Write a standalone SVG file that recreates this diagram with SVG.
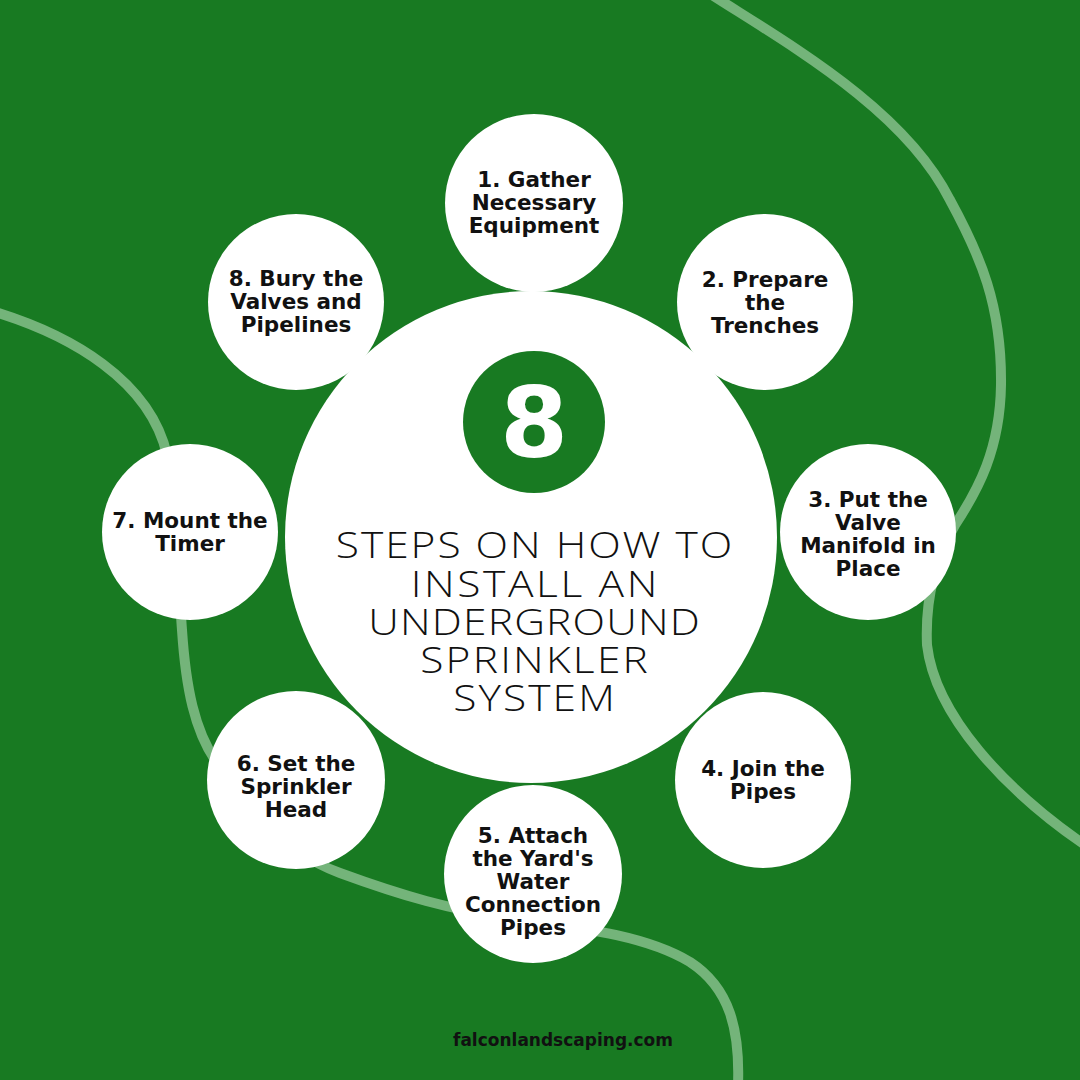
<svg xmlns="http://www.w3.org/2000/svg" width="1080" height="1080" viewBox="0 0 1080 1080">
<style>
.bg{fill:#187a22}
.curve{fill:none;stroke:#74b47a;stroke-width:10;stroke-linecap:butt}
.node{fill:#ffffff}
.lbl{font-family:"DejaVu Sans","Liberation Sans",sans-serif;font-weight:bold;font-size:21.5px;fill:#111111;text-anchor:middle}
.title{font-family:"Open Sans","Liberation Sans",sans-serif;font-weight:300;font-size:36px;fill:#111111;text-anchor:middle}
.big{font-family:"DejaVu Sans","Open Sans",sans-serif;font-weight:bold;font-size:98px;fill:#ffffff;text-anchor:middle}
.foot{font-family:"DejaVu Sans","Liberation Sans",sans-serif;font-weight:bold;font-size:17px;fill:#111111;text-anchor:middle}
</style>
<rect class="bg" x="0" y="0" width="1080" height="1080"/>
<g id="connectors">
<path class="curve" d="M -5 312 C 70 335, 150 380, 167 455 C 180 520, 178 580, 182 630 C 186 690, 195 730, 215 760 C 250 815, 290 855, 340 873 C 400 895, 450 910, 520 920 C 580 928, 645 935, 690 962 C 730 988, 740 1030, 738 1085"/>
<path class="curve" d="M 712 -5 C 790 45, 905 110, 950 200 C 980 255, 1002 305, 1001 385 C 1000 450, 978 490, 955 525 C 935 560, 925 600, 927 645 C 935 715, 1005 790, 1085 845"/>
</g>
<g id="center">
<circle class="node" cx="531" cy="537" r="246"/>
<circle class="bg" cx="534" cy="422" r="71"/>
<text class="big" x="534" y="457">8</text>
<g transform="translate(534 0) scale(1.18 1)">
<text class="title" x="0" y="558" textLength="336" lengthAdjust="spacing">STEPS ON HOW TO</text>
<text class="title" x="0" y="597" textLength="209" lengthAdjust="spacing">INSTALL AN</text>
<text class="title" x="0" y="635" textLength="281" lengthAdjust="spacing">UNDERGROUND</text>
<text class="title" x="0" y="673" textLength="193" lengthAdjust="spacing">SPRINKLER</text>
<text class="title" x="0" y="711" textLength="137" lengthAdjust="spacing">SYSTEM</text>
</g>
</g>
<g id="step1">
<circle class="node" cx="534" cy="203" r="89"/>
<text class="lbl" x="534" y="187">1. Gather</text>
<text class="lbl" x="534" y="210">Necessary</text>
<text class="lbl" x="534" y="233">Equipment</text>
</g>
<g id="step2">
<circle class="node" cx="765" cy="302" r="88"/>
<text class="lbl" x="765" y="287">2. Prepare</text>
<text class="lbl" x="765" y="310">the</text>
<text class="lbl" x="765" y="333">Trenches</text>
</g>
<g id="step3">
<circle class="node" cx="868" cy="532" r="88"/>
<text class="lbl" x="868" y="507">3. Put the</text>
<text class="lbl" x="868" y="530">Valve</text>
<text class="lbl" x="868" y="553">Manifold in</text>
<text class="lbl" x="868" y="576">Place</text>
</g>
<g id="step4">
<circle class="node" cx="763" cy="780" r="88"/>
<text class="lbl" x="763" y="776">4. Join the</text>
<text class="lbl" x="763" y="799">Pipes</text>
</g>
<g id="step5">
<circle class="node" cx="533" cy="874" r="89"/>
<text class="lbl" x="533" y="843">5. Attach</text>
<text class="lbl" x="533" y="866">the Yard's</text>
<text class="lbl" x="533" y="889">Water</text>
<text class="lbl" x="533" y="912">Connection</text>
<text class="lbl" x="533" y="935">Pipes</text>
</g>
<g id="step6">
<circle class="node" cx="296" cy="780" r="89"/>
<text class="lbl" x="296" y="771">6. Set the</text>
<text class="lbl" x="296" y="794">Sprinkler</text>
<text class="lbl" x="296" y="817">Head</text>
</g>
<g id="step7">
<circle class="node" cx="190" cy="532" r="88"/>
<text class="lbl" x="190" y="528">7. Mount the</text>
<text class="lbl" x="190" y="551">Timer</text>
</g>
<g id="step8">
<circle class="node" cx="296" cy="302" r="88"/>
<text class="lbl" x="296" y="286">8. Bury the</text>
<text class="lbl" x="296" y="309">Valves and</text>
<text class="lbl" x="296" y="332">Pipelines</text>
</g>
<text class="foot" x="563" y="1046">falconlandscaping.com</text>
</svg>
